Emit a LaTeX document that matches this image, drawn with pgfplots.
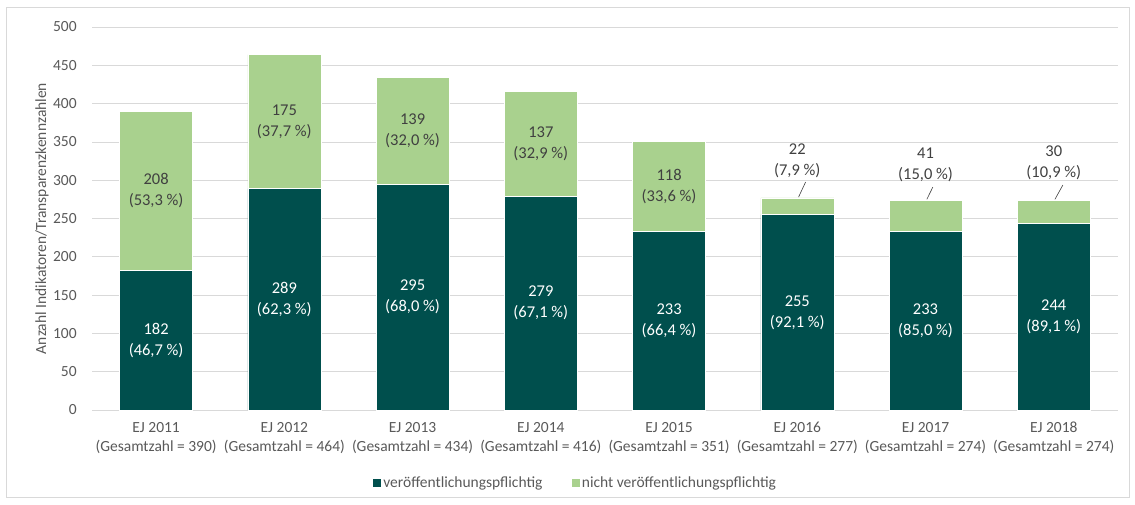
\documentclass[border=0pt]{standalone}
\usepackage{pgfplots}
\pgfplotsset{compat=1.18}
\usepackage{fontspec}
\setmainfont{Carlito}
\definecolor{dgreen}{RGB}{0,79,77}
\definecolor{lgreen}{RGB}{169,209,142}
\definecolor{txt}{RGB}{89,89,89}
\definecolor{lbl}{RGB}{64,64,64}
\definecolor{gridc}{RGB}{217,217,217}
\begin{document}
\fontsize{15.5}{19}\selectfont
\begin{tikzpicture}[x=1pt,y=1pt]
\path[use as bounding box] (0,0) rectangle (1135,504);
\draw[gridc, line width=0.8pt] (6,7) rectangle (1129,497);
\begin{axis}[
  at={(92pt,94pt)}, anchor=south west,
  scale only axis, width=1026pt, height=383pt,
  ymin=0, ymax=500, ytick={0,50,...,500},
  xmin=-0.5, xmax=7.5,
  ybar stacked, bar width=73pt,
  xtick={0,...,7},
  xticklabels={{EJ 2011\\(Gesamtzahl = 390)},{EJ 2012\\(Gesamtzahl = 464)},{EJ 2013\\(Gesamtzahl = 434)},{EJ 2014\\(Gesamtzahl = 416)},{EJ 2015\\(Gesamtzahl = 351)},{EJ 2016\\(Gesamtzahl = 277)},{EJ 2017\\(Gesamtzahl = 274)},{EJ 2018\\(Gesamtzahl = 274)}},
  xticklabel style={align=center, text=txt, font=\fontsize{15.5}{19}\selectfont, yshift=-7pt},
  yticklabel style={text=txt, font=\fontsize{15.5}{19}\selectfont, xshift=-10pt},
  /pgf/number format/assume math mode=true,
  axis line style={draw=none},
  major tick length=0pt,
  ymajorgrids, grid style={gridc, line width=0.8pt},
  legend style={at={(axis description cs:0.4708,-0.1906)}, anchor=center, draw=none, fill=none, legend columns=2, font=\fontsize{15.5}{19}\selectfont, text=txt, /tikz/every even column/.append style={column sep=26pt}},
  legend image code/.code={\fill[#1] (0pt,-4.5pt) rectangle (9pt,4.5pt);},
  clip=false,
]
\addplot[fill=dgreen, draw=white, line width=0.4pt] coordinates {(0,182) (1,289) (2,295) (3,279) (4,233) (5,255) (6,233) (7,244)};
\addlegendentry{veröffentlichungspflichtig}
\addplot[fill=lgreen, draw=white, line width=0.4pt] coordinates {(0,208) (1,175) (2,139) (3,137) (4,118) (5,22) (6,41) (7,30)};
\addlegendentry{nicht veröffentlichungspflichtig}

\coordinate (yl) at (axis description cs:-0.0487,0.5);
\coordinate (d0) at (axis cs:0,91);
\coordinate (d1) at (axis cs:1,144.5);
\coordinate (d2) at (axis cs:2,147.5);
\coordinate (d3) at (axis cs:3,139.5);
\coordinate (d4) at (axis cs:4,116.5);
\coordinate (d5) at (axis cs:5,127.5);
\coordinate (d6) at (axis cs:6,116.5);
\coordinate (d7) at (axis cs:7,122);
\coordinate (l0) at (axis cs:0,286);
\coordinate (l1) at (axis cs:1,376.5);
\coordinate (l2) at (axis cs:2,364.5);
\coordinate (l3) at (axis cs:3,347.5);
\coordinate (l4) at (axis cs:4,292);
\coordinate (l5) at (axis cs:5,325);
\coordinate (l6) at (axis cs:6,320);
\coordinate (l7) at (axis cs:7,322.5);
\coordinate (a5) at (axis cs:5.065,297.7);
\coordinate (b5) at (axis cs:5.010,278);
\coordinate (a6) at (axis cs:6.057,291);
\coordinate (b6) at (axis cs:6.010,275);
\coordinate (a7) at (axis cs:7.071,293.7);
\coordinate (b7) at (axis cs:7.009,275);
\end{axis}
\node[rotate=90, text=txt, font=\fontsize{15.5}{19}\selectfont] at (yl) {Anzahl Indikatoren/Transparenzkennzahlen};
\tikzset{dl/.style={align=center, font=\fontsize{16.5}{21}\selectfont}}
\node[dl, text=white] at (d0) {182\\(46,7~\%)};
\node[dl, text=white] at (d1) {289\\(62,3~\%)};
\node[dl, text=white] at (d2) {295\\(68,0~\%)};
\node[dl, text=white] at (d3) {279\\(67,1~\%)};
\node[dl, text=white] at (d4) {233\\(66,4~\%)};
\node[dl, text=white] at (d5) {255\\(92,1~\%)};
\node[dl, text=white] at (d6) {233\\(85,0~\%)};
\node[dl, text=white] at (d7) {244\\(89,1~\%)};
\node[dl, text=lbl] at (l0) {208\\(53,3~\%)};
\node[dl, text=lbl] at (l1) {175\\(37,7~\%)};
\node[dl, text=lbl] at (l2) {139\\(32,0~\%)};
\node[dl, text=lbl] at (l3) {137\\(32,9~\%)};
\node[dl, text=lbl] at (l4) {118\\(33,6~\%)};
\node[dl, text=lbl] at (l5) {22\\(7,9~\%)};
\node[dl, text=lbl] at (l6) {41\\(15,0~\%)};
\node[dl, text=lbl] at (l7) {30\\(10,9~\%)};
\draw[lbl, line width=0.6pt] (a5) -- (b5);
\draw[lbl, line width=0.6pt] (a6) -- (b6);
\draw[lbl, line width=0.6pt] (a7) -- (b7);
\end{tikzpicture}
\end{document}
